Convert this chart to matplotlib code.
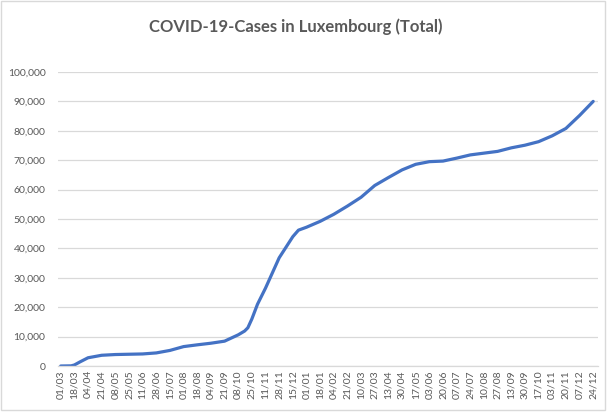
import matplotlib
matplotlib.use('Agg')
import matplotlib.pyplot as plt
import matplotlib.dates as mdates
from matplotlib.patches import Rectangle
from matplotlib.ticker import FuncFormatter
import pandas as pd

# cumulative cases, at the axis dates plus a few bends
DATES = [
    '2020-03-01', '2020-03-14', '2020-03-18', '2020-03-25', '2020-04-04',
    '2020-04-21', '2020-05-08', '2020-05-25', '2020-06-11', '2020-06-28',
    '2020-07-15', '2020-08-01', '2020-08-18', '2020-09-04', '2020-09-21',
    '2020-10-08', '2020-10-16', '2020-10-20', '2020-10-25', '2020-11-01',
    '2020-11-11', '2020-11-28', '2020-12-15', '2020-12-22', '2021-01-01',
    '2021-01-18', '2021-02-04', '2021-02-21', '2021-03-10', '2021-03-27',
    '2021-04-13', '2021-04-30', '2021-05-17', '2021-06-03', '2021-06-20',
    '2021-07-07', '2021-07-24', '2021-08-10', '2021-08-27', '2021-09-13',
    '2021-09-30', '2021-10-17', '2021-11-03', '2021-11-20', '2021-12-07',
    '2021-12-24',
]
CASES = [
    0, 50, 350, 1400, 2800,
    3650, 3900, 4000, 4100, 4450,
    5300, 6600, 7200, 7750, 8450,
    10600, 11900, 13000, 16000, 21000,
    26500, 36800, 44000, 46200, 47200,
    49200, 51600, 54400, 57400, 61400,
    64100, 66700, 68600, 69500, 69700,
    70700, 71800, 72400, 73000, 74200,
    75100, 76300, 78300, 80800, 85200,
    90000,
]
Y_TICKS = [0, 10000, 20000, 30000, 40000, 50000, 60000, 70000, 80000, 90000, 100000]

TITLE = 'COVID-19-Cases in Luxembourg (Total)'
LINE_COLOR = '#4472C4'
TEXT_COLOR = '#595959'
GRID_COLOR = '#d9d9d9'

plt.rcParams['font.family'] = ['Lato', 'DejaVu Sans']

fig = plt.figure(figsize=(6.07, 4.12), dpi=100)
ax = fig.add_axes([58 / 607, 1 - 366 / 412, 540 / 607, 294 / 412])

dates = pd.to_datetime(DATES)
ax.plot(dates, CASES, color=LINE_COLOR, lw=2.3, solid_capstyle='round')

start = dates[0]
tick_dates = pd.date_range(start, dates[-1], freq='17D')
ax.set_xticks(tick_dates)
ax.xaxis.set_major_formatter(mdates.DateFormatter('%d/%m'))
ax.set_xlim(start - pd.Timedelta(days=3.4), start + pd.Timedelta(days=669))
ax.tick_params(axis='x', rotation=90, labelsize=7.5, colors=TEXT_COLOR,
               length=0, pad=3)

ax.set_ylim(0, 100000)
ax.set_yticks(Y_TICKS)
ax.yaxis.set_major_formatter(FuncFormatter(lambda v, _: f'{v:,.0f}'))
ax.tick_params(axis='y', labelsize=7.5, colors=TEXT_COLOR, length=0, pad=9)
ax.grid(axis='y', color=GRID_COLOR, lw=0.9)
ax.set_axisbelow(True)

for side in ['top', 'right', 'left']:
    ax.spines[side].set_visible(False)
ax.spines['bottom'].set_color(GRID_COLOR)
ax.spines['bottom'].set_linewidth(0.9)

fig.text(0.488, 1 - 27 / 412, TITLE, ha='center', va='center',
         fontsize=12, fontweight='bold', color=TEXT_COLOR)

fig.patches.append(Rectangle((0.002, 0.004), 0.995, 0.993,
                             transform=fig.transFigure, fill=False,
                             edgecolor=GRID_COLOR, lw=1.0))

fig.savefig('out.png', dpi=100)
plt.close()
